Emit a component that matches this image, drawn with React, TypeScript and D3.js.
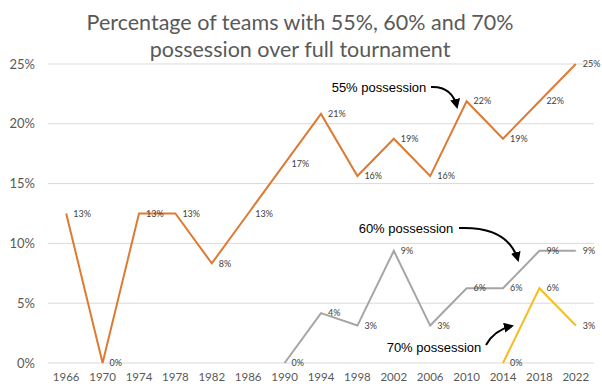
import React from "react";
import * as d3 from "d3";

const years = ["1966","1970","1974","1978","1982","1986","1990","1994","1998","2002","2006","2010","2014","2018","2022"];
const pct55: (number | null)[] = [12.5, 0, 12.5, 12.5, 8.33, 12.5, 16.67, 20.83, 15.63, 18.75, 15.63, 21.88, 18.75, 21.88, 25];
const pct60: (number | null)[] = [null, null, null, null, null, null, 0, 4.17, 3.13, 9.38, 3.13, 6.25, 6.25, 9.38, 9.38];
const pct70: (number | null)[] = [null, null, null, null, null, null, null, null, null, null, null, null, 0, 6.25, 3.13];
const yTicks = [0, 5, 10, 15, 20, 25];
const titleLines = ["Percentage of teams with 55%, 60% and 70%", "possession over full tournament"];

const W = 602, H = 390;
const left = 48, right = 594, top = 64, bottom = 363;

export default function App() {
  const x = d3.scaleBand<string>().domain(years).range([left, right]);
  const cx = (y: string) => (x(y) as number) + x.bandwidth() / 2;
  const y = d3.scaleLinear().domain([0, 25]).range([bottom, top]);

  const series = [
    { vals: pct55, color: "#DD7A33" },
    { vals: pct60, color: "#A5A5A5" },
    { vals: pct70, color: "#F5BD1F" },
  ];
  const line = d3.line<[string, number | null]>()
    .defined(d => d[1] !== null)
    .x(d => cx(d[0]))
    .y(d => y(d[1] as number));

  const annotations = [
    { text: "55% possession", tx: 379, ty: 87, path: "M431,87 Q452,86 457,107" },
    { text: "60% possession", tx: 406, ty: 228, path: "M459,228 Q508,226 518,260" },
    { text: "70% possession", tx: 434, ty: 347, path: "M486,345 Q494,330 512,326" },
  ];

  return (
    <svg width={W} height={H} style={{ position: "absolute", left: 0, top: 0, background: "#fff" }}>
      <defs>
        <marker id="arr" viewBox="0 0 10 10" refX="8" refY="5" markerWidth="5" markerHeight="5" orient="auto">
          <path d="M0,0 L10,5 L0,10 z" fill="#000" />
        </marker>
      </defs>
      <rect width={W} height={H} fill="#fff" />
      {titleLines.map((t, i) => (
        <text key={i} x={300} y={30 + i * 27} textAnchor="middle" fontFamily="Lato, 'Open Sans', sans-serif" fontSize={21.5} fill="#595959">{t}</text>
      ))}
      {yTicks.map(t => (
        <g key={t}>
          <line x1={left} x2={right} y1={y(t)} y2={y(t)} stroke="#D9D9D9" strokeWidth={1} />
          <text x={35} y={y(t)} dy="0.35em" textAnchor="end" fontFamily="Lato, sans-serif" fontSize={13} fill="#595959">{t}%</text>
        </g>
      ))}
      {years.map(yr => (
        <text key={yr} x={cx(yr)} y={377} dy="0.35em" textAnchor="middle" fontFamily="Lato, sans-serif" fontSize={11.5} fill="#595959">{yr}</text>
      ))}
      {series.map((s, i) => (
        <g key={i}>
          <path d={line(years.map((yr, j) => [yr, s.vals[j]]) as any) || ""} fill="none" stroke={s.color} strokeWidth={2} strokeLinejoin="miter" />
          {years.map((yr, j) => s.vals[j] === null ? null : (
            <text key={yr} x={cx(yr) + 7} y={y(s.vals[j] as number)} dy="0.35em" fontFamily="Lato, sans-serif" fontSize={9} fill="#404040">{Math.round(s.vals[j] as number)}%</text>
          ))}
        </g>
      ))}
      {annotations.map((a, i) => (
        <g key={i}>
          <text x={a.tx} y={a.ty} dy="0.35em" textAnchor="middle" fontFamily="'Liberation Sans', Arial, sans-serif" fontSize={13} fill="#000">{a.text}</text>
          <path d={a.path} fill="none" stroke="#000" strokeWidth={2} markerEnd="url(#arr)" />
        </g>
      ))}
    </svg>
  );
}
